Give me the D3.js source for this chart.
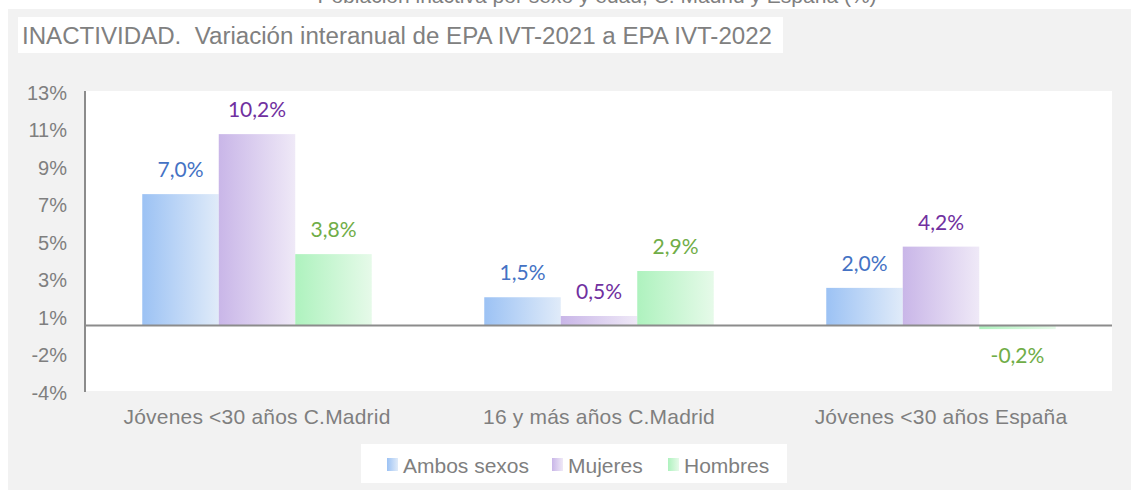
<!DOCTYPE html>
<html>
<head>
<meta charset="utf-8">
<script src="https://cdn.jsdelivr.net/npm/d3@7"></script>
<style>
  html, body { margin: 0; padding: 0; background: #ffffff; }
  svg { display: block; }
</style>
</head>
<body>
<svg id="chart" width="1131" height="491"></svg>
<script>
// ---- Data ----
const categories = ["Jóvenes <30 años C.Madrid", "16 y más años C.Madrid", "Jóvenes <30 años España"];
const seriesNames = ["Ambos sexos", "Mujeres", "Hombres"];
const ambosSexos = [7.0, 1.5, 2.0];
const mujeres = [10.2, 0.5, 4.2];
const hombres = [3.8, 2.9, -0.2];
const tickValues = [-3.5, -1.5, 0.5, 2.5, 4.5, 6.5, 8.5, 10.5, 12.5];
const tickLabels = ["-4%", "-2%", "1%", "3%", "5%", "7%", "9%", "11%", "13%"];
const titleText = "INACTIVIDAD.  Variación interanual de EPA IVT-2021 a EPA IVT-2022";
const topText = "Población inactiva por sexo y edad, C. Madrid y España (%)";

const seriesValues = [ambosSexos, mujeres, hombres];
const gradStops = [
  ["#9cc2f4", "#e0ebf9"],
  ["#c9b6e8", "#efe9f7"],
  ["#aef2be", "#e6fae9"]
];
const labelColors = ["#4472c4", "#7030a0", "#70ad47"];

const svg = d3.select("#chart");
const defs = svg.append("defs");
gradStops.forEach((s, i) => {
  const g = defs.append("linearGradient").attr("id", "grad" + i)
    .attr("x1", "0%").attr("x2", "100%").attr("y1", "0%").attr("y2", "0%");
  g.append("stop").attr("offset", "0%").attr("stop-color", s[0]);
  g.append("stop").attr("offset", "100%").attr("stop-color", s[1]);
});

// partially visible text at top (cut off, as in the original)
svg.append("text").attr("x", 597).attr("y", 3).attr("text-anchor", "middle")
  .attr("font-family", "Liberation Sans, Arial, sans-serif").attr("font-size", 21)
  .attr("fill", "#7f7f7f").text(topText);

// outer background
svg.append("rect").attr("x", 8).attr("y", 9).attr("width", 1123).attr("height", 481).attr("fill", "#f2f2f2");

// title box
svg.append("rect").attr("x", 18).attr("y", 17).attr("width", 765).attr("height", 36).attr("fill", "#ffffff");
svg.append("text").attr("x", 22).attr("y", 44)
  .style("white-space", "pre")
  .attr("font-family", "Liberation Sans, Arial, sans-serif").attr("font-size", 23)
  .attr("fill", "#808080").attr("textLength", 750).attr("lengthAdjust", "spacingAndGlyphs")
  .text(titleText);

// plot area
const plot = { left: 86, right: 1112, top: 91, bottom: 391 };
svg.append("rect").attr("x", plot.left).attr("y", plot.top)
  .attr("width", plot.right - plot.left).attr("height", plot.bottom - plot.top).attr("fill", "#ffffff");

const x0 = d3.scaleBand().domain(categories).range([plot.left, plot.right])
  .paddingInner(0.329).paddingOuter(0.1645);
const x1 = d3.scaleBand().domain(seriesNames).range([0, x0.bandwidth()]);
const y = d3.scaleLinear().domain([-3.5, 12.5]).range([plot.bottom, plot.top]);

// y axis labels
const yAxis = d3.axisLeft(y).tickValues(tickValues).tickSize(0).tickPadding(18)
  .tickFormat((d, i) => tickLabels[i]);
const yg = svg.append("g").attr("transform", `translate(${plot.left - 1},0)`).call(yAxis);
yg.select(".domain").remove();
yg.selectAll("text").attr("font-family", "Liberation Sans, Arial, sans-serif")
  .attr("font-size", 20).attr("fill", "#7f7f7f").attr("dy", "0.42em");

// bars
seriesValues.forEach((vals, si) => {
  const g = svg.append("g");
  g.selectAll("rect").data(vals).join("rect")
    .attr("x", (d, i) => x0(categories[i]) + x1(seriesNames[si]))
    .attr("width", x1.bandwidth())
    .attr("y", d => y(Math.max(0, d)))
    .attr("height", d => Math.abs(y(d) - y(0)))
    .attr("fill", `url(#grad${si})`);
  g.selectAll("text").data(vals).join("text")
    .attr("x", (d, i) => x0(categories[i]) + x1(seriesNames[si]) + x1.bandwidth() / 2)
    .attr("y", d => d >= 0 ? y(d) - 17 : y(d) + 34)
    .attr("text-anchor", "middle")
    .attr("font-family", "Lato, 'Open Sans', sans-serif").attr("font-size", 21)
    .attr("fill", labelColors[si])
    .text(d => d.toFixed(1).replace(".", ",") + "%");
});

// left axis line and zero line
svg.append("line").attr("x1", plot.left - 1).attr("x2", plot.left - 1)
  .attr("y1", plot.top).attr("y2", plot.bottom + 1)
  .attr("stroke", "#8c8c8c").attr("stroke-width", 2);
svg.append("line").attr("x1", plot.left - 1).attr("x2", plot.right)
  .attr("y1", y(0)).attr("y2", y(0))
  .attr("stroke", "#8c8c8c").attr("stroke-width", 2);

// category labels
const xAxis = d3.axisBottom(x0).tickSize(0).tickPadding(0);
const xg = svg.append("g").attr("transform", `translate(0,${plot.bottom})`).call(xAxis);
xg.select(".domain").remove();
xg.selectAll("text").attr("font-family", "Liberation Sans, Arial, sans-serif")
  .attr("font-size", 21).attr("fill", "#7f7f7f").attr("dy", 0).attr("y", 33)
  .attr("letter-spacing", 0.2);

// legend
svg.append("rect").attr("x", 361).attr("y", 444).attr("width", 426).attr("height", 39).attr("fill", "#ffffff");
const legendX = [387, 552, 668];
seriesNames.forEach((name, i) => {
  svg.append("rect").attr("x", legendX[i]).attr("y", 458).attr("width", 11).attr("height", 13)
    .attr("fill", `url(#grad${i})`);
  svg.append("text").attr("x", legendX[i] + 16).attr("y", 473)
    .attr("font-family", "Liberation Sans, Arial, sans-serif").attr("font-size", 21)
    .attr("fill", "#7f7f7f").text(name);
});
</script>
</body>
</html>
